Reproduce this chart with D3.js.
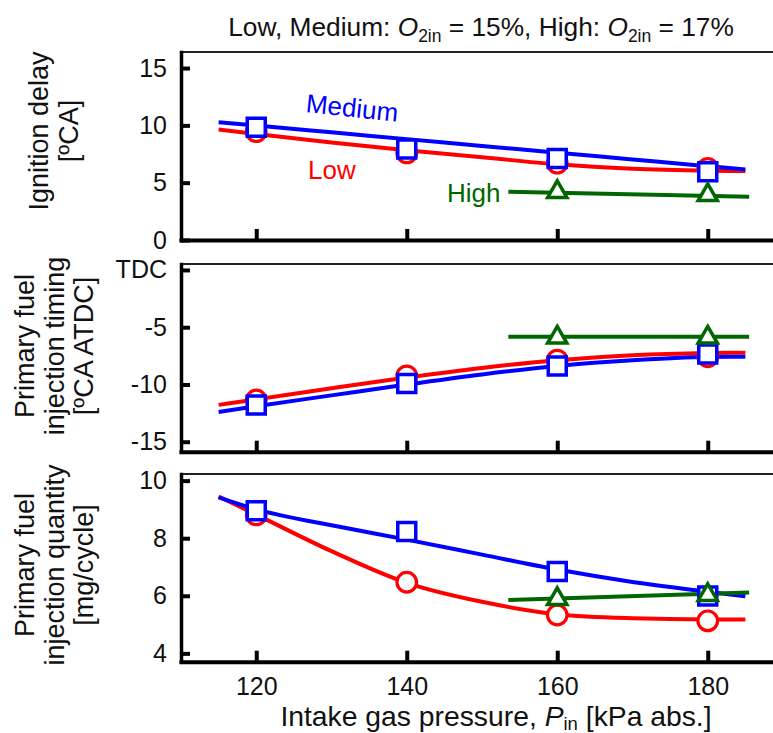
<!DOCTYPE html>
<html>
<head>
<meta charset="utf-8">
<script src="https://cdn.jsdelivr.net/npm/d3@7"></script>
<style>
  html, body { margin: 0; padding: 0; background: #fff; }
  svg { display: block; }
  text { font-family: "Liberation Sans", Arial, Helvetica, sans-serif; }
</style>
</head>
<body>
<svg id="chart" width="773" height="733"></svg>
<script>
// ---------------- DATA ----------------
const pressures = [120, 140, 160, 180];
const highPressures = [160, 180];
const fitPressures = [115, 120, 130, 140, 150, 160, 170, 180, 185];
const highFitPressures = [153.5, 185.5];

// Ignition delay [ºCA]
const delayLow = [9.45, 7.6, 6.7, 6.25];
const delayMedium = [9.83, 7.93, 7.12, 5.96];
const delayHigh = [4.2, 3.92];
const delayLowFit = [9.63, 9.25, 8.5, 7.82, 7.22, 6.6, 6.22, 6.05, 6.01];
const delayMediumFit = [10.28, 9.98, 9.39, 8.8, 8.21, 7.62, 7.03, 6.44, 6.14];
const delayHighFit = [4.21, 3.78];

// Primary fuel injection timing [ºCA ATDC]
const timingLow = [-11.35, -9.25, -7.87, -7.58];
const timingMedium = [-11.8, -9.91, -8.39, -7.34];
const timingHigh = [-5.9, -5.9];
const timingLowFit = [-11.78, -11.3, -10.33, -9.4, -8.56, -7.88, -7.45, -7.26, -7.23];
const timingMediumFit = [-12.4, -11.9, -10.95, -10.0, -9.12, -8.38, -7.88, -7.6, -7.58];
const timingHighFit = [-5.83, -5.83];

// Primary fuel injection quantity [mg/cycle]
const quantityLow = [8.81, 6.47, 5.33, 5.13];
const quantityMedium = [8.95, 8.23, 6.84, 5.99];
const quantityHigh = [5.89, 6.03];
const quantityLowFit = [9.45, 8.82, 7.55, 6.45, 5.79, 5.36, 5.22, 5.18, 5.18];
const quantityMediumFit = [9.42, 9.0, 8.45, 7.95, 7.43, 6.91, 6.48, 6.14, 5.98];
const quantityHighFit = [5.85, 6.11];

// Tick labels
const xTicks = [120, 140, 160, 180];
const delayTicks = [0, 5, 10, 15];
const timingTicks = [-15, -10, -5, 0];
const timingTickLabels = ["-15", "-10", "-5", "TDC"];
const quantityTicks = [4, 6, 8, 10];

const seriesNames = ["Low", "Medium", "High"];

// ---------------- LAYOUT ----------------
const svg = d3.select("#chart");
const colors = { Low: "#ff0000", Medium: "#0000ff", High: "#006600" };
const x = d3.scaleLinear().domain([110, 190]).range([181, 783]);

const panels = [
  { top: 52, bottom: 240, domain: [0, 16.4], ticks: delayTicks, labels: null,
    low: delayLow, medium: delayMedium, high: delayHigh,
    lowFit: delayLowFit, mediumFit: delayMediumFit, highFit: delayHighFit,
    title: ["Ignition delay", "[ºCA]"], titleX: [48, 78], titleY: 131 },
  { top: 264, bottom: 451.7, domain: [-15.87, 0.52], ticks: timingTicks, labels: timingTickLabels,
    low: timingLow, medium: timingMedium, high: timingHigh,
    lowFit: timingLowFit, mediumFit: timingMediumFit, highFit: timingHighFit,
    title: ["Primary fuel", "injection timing", "[ºCA ATDC]"], titleX: [34, 64, 93], titleY: 346 },
  { top: 474, bottom: 661.7, domain: [3.71, 10.23], ticks: quantityTicks, labels: null,
    low: quantityLow, medium: quantityMedium, high: quantityHigh,
    lowFit: quantityLowFit, mediumFit: quantityMediumFit, highFit: quantityHighFit,
    title: ["Primary fuel", "injection quantity", "[mg/cycle]"], titleX: [34, 64, 93], titleY: 565 }
];

const tickFont = 25;
const yTitleFont = 27;
const labelFont = 26;

panels.forEach((p, i) => {
  const y = d3.scaleLinear().domain(p.domain).range([p.bottom, p.top]);
  const g = svg.append("g");

  // top frame line
  g.append("line")
    .attr("x1", x.range()[0]).attr("x2", x.range()[1])
    .attr("y1", p.top).attr("y2", p.top)
    .attr("stroke", "#222").attr("stroke-width", 2);

  // left axis (ticks inward)
  const ya = g.append("g").attr("transform", `translate(${x.range()[0]},0)`)
    .call(d3.axisLeft(y).tickValues(p.ticks).tickSize(-9).tickSizeOuter(0).tickPadding(14)
      .tickFormat((d, k) => p.labels ? p.labels[k] : d3.format("d")(d)));
  ya.select(".domain").attr("stroke", "#000").attr("stroke-width", 3.5).attr("stroke-linecap", "square");
  ya.selectAll(".tick line").attr("stroke", "#000").attr("stroke-width", 4);
  ya.selectAll(".tick text").attr("font-size", tickFont).attr("fill", "#111")
    .attr("font-family", "Liberation Sans, Arial, sans-serif");

  // bottom axis (ticks inward)
  const xa = g.append("g").attr("transform", `translate(0,${p.bottom})`)
    .call(d3.axisBottom(x).tickValues(xTicks).tickSize(-11).tickSizeOuter(0).tickPadding(16)
      .tickFormat(i === panels.length - 1 ? d3.format("d") : () => ""));
  xa.select(".domain").attr("stroke", "#000").attr("stroke-width", 4).attr("stroke-linecap", "square");
  xa.selectAll(".tick line").attr("stroke", "#000").attr("stroke-width", 4);
  xa.selectAll(".tick text").attr("font-size", tickFont).attr("fill", "#111")
    .attr("font-family", "Liberation Sans, Arial, sans-serif");

  // y title
  const t = g.append("text")
    .attr("transform", `rotate(-90)`)
    .attr("text-anchor", "middle")
    .attr("font-size", yTitleFont).attr("fill", "#111");
  p.title.forEach((line, k) => {
    t.append("tspan").attr("x", -p.titleY).attr("y", p.titleX[k]).text(line);
  });

  // fit lines
  const line = d3.line().x(d => x(d[0])).y(d => y(d[1])).curve(d3.curveMonotoneX);
  const fits = [
    ["Low", d3.zip(fitPressures, p.lowFit)],
    ["Medium", d3.zip(fitPressures, p.mediumFit)],
    ["High", d3.zip(highFitPressures, p.highFit)]
  ];
  fits.forEach(([name, pts]) => {
    g.append("path").datum(pts).attr("d", line)
      .attr("fill", "none").attr("stroke", colors[name]).attr("stroke-width", 4);
  });

  // markers
  g.selectAll(".low").data(d3.zip(pressures, p.low)).join("circle")
    .attr("cx", d => x(d[0])).attr("cy", d => y(d[1])).attr("r", 9.8)
    .attr("fill", "#fff").attr("stroke", colors.Low).attr("stroke-width", 3.2);
  g.selectAll(".med").data(d3.zip(pressures, p.medium)).join("path")
    .attr("transform", d => `translate(${x(d[0])},${y(d[1])})`)
    .attr("d", d3.symbol(d3.symbolSquare, 324)())
    .attr("fill", "#fff").attr("stroke", colors.Medium).attr("stroke-width", 3.5);
  g.selectAll(".high").data(d3.zip(highPressures, p.high)).join("path")
    .attr("transform", d => `translate(${x(d[0])},${y(d[1])})`)
    .attr("d", d3.symbol(d3.symbolTriangle, 160)())
    .attr("fill", "#fff").attr("stroke", colors.High).attr("stroke-width", 3.5);

  if (i === 0) {
    g.append("text").attr("transform", "translate(352,110) rotate(6)")
      .attr("text-anchor", "middle").attr("dominant-baseline", "middle")
      .attr("font-size", labelFont).attr("fill", colors.Medium).text(seriesNames[1]);
    g.append("text").attr("x", 308).attr("y", 179)
      .attr("font-size", labelFont).attr("fill", colors.Low).text(seriesNames[0]);
    g.append("text").attr("x", 447).attr("y", 202)
      .attr("font-size", labelFont).attr("fill", colors.High).text(seriesNames[2]);
  }
});

// Title
const title = svg.append("text").attr("x", 481).attr("y", 36).attr("text-anchor", "middle")
  .attr("font-size", 26.3).attr("fill", "#111");
title.append("tspan").text("Low, Medium: ");
title.append("tspan").attr("font-style", "italic").text("O");
title.append("tspan").attr("font-size", 17.5).attr("dy", 6).text("2in");
title.append("tspan").attr("dy", -6).text(" = 15%, High: ");
title.append("tspan").attr("font-style", "italic").text("O");
title.append("tspan").attr("font-size", 17.5).attr("dy", 6).text("2in");
title.append("tspan").attr("dy", -6).text(" = 17%");

// X axis title
const xt = svg.append("text").attr("x", 496).attr("y", 726).attr("text-anchor", "middle")
  .attr("font-size", 28.3).attr("fill", "#111");
xt.append("tspan").text("Intake gas pressure, ");
xt.append("tspan").attr("font-style", "italic").text("P");
xt.append("tspan").attr("font-size", 18.5).attr("dy", 4).text("in");
xt.append("tspan").attr("dy", -4).text(" [kPa abs.]");
</script>
</body>
</html>
